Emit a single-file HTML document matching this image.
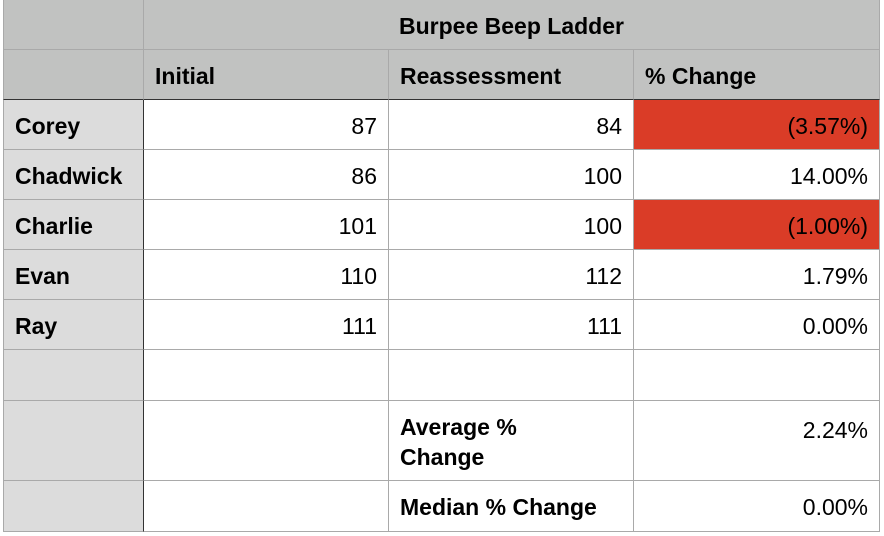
<!DOCTYPE html>
<html><head><style>
body{margin:0;width:884px;height:536px;background:#fff;position:relative;overflow:hidden;font-family:"Liberation Sans",sans-serif;font-size:23px;color:#000}
.c{position:absolute;box-sizing:border-box;border-right:1px solid #a9a9a9;border-bottom:1px solid #a9a9a9;padding:3px 11px 0 11px;display:flex;align-items:center}
.h{background:#c1c2c1;font-weight:bold}
.r{background:#dcdcdc;font-weight:bold}
.n{justify-content:flex-end}
.red{background:#da3c27}
.b{font-weight:bold}
</style></head><body>
<div id="g"></div>
<script>
const X=[3,144,389,634,880],Y=[0,50,100,150,200,250,300,350,401,481,532];
const rows=[
[],
[["","h"],["Initial","h"],["Reassessment","h"],["% Change","h"]],
[["Corey","r"],["87","n"],["84","n"],["(3.57%)","n red"]],
[["Chadwick","r"],["86","n"],["100","n"],["14.00%","n"]],
[["Charlie","r"],["101","n"],["100","n"],["(1.00%)","n red"]],
[["Evan","r"],["110","n"],["112","n"],["1.79%","n"]],
[["Ray","r"],["111","n"],["111","n"],["0.00%","n"]],
[["","r"],["",""],["",""],["",""]],
[["","r"],["",""],["Average %<br>Change","b"],["2.24%","n top"]],
[["","r"],["",""],["Median % Change","b"],["0.00%","n"]]];
let h="";
rows.forEach((r,i)=>{
 if(i==0){h+=`<div class="c h" style="left:${X[0]}px;top:0;width:${X[1]-X[0]}px;height:50px;border-left:1px solid #a9a9a9"></div><div class="c h" style="left:${X[1]}px;top:0;width:${X[4]-X[1]}px;height:50px;justify-content:center">Burpee Beep Ladder</div>`;return;}
 r.forEach((c,j)=>{
  let st=`left:${X[j]}px;top:${Y[i]}px;width:${X[j+1]-X[j]}px;height:${Y[i+1]-Y[i]}px;`;
  if(j==0)st+="border-left:1px solid #a9a9a9;";
  if(j==0&&i>=2)st+="border-right:1px solid #333;";
  if(i==1)st+="border-bottom:1px solid #333;";
  if(c[1].includes("top"))st+="align-items:flex-start;padding-top:16px;";
  if(c[1].includes("b")&&i==8)st+="line-height:30px;";
  h+=`<div class="c ${c[1]}" style="${st}">${c[0]}</div>`;
 });
});
document.getElementById("g").innerHTML=h;
</script>
</body></html>
